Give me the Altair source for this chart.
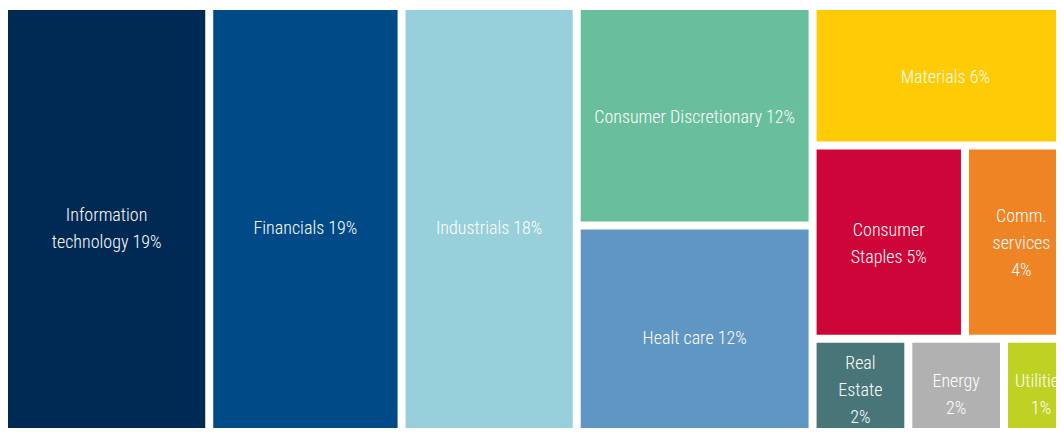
import altair as alt
import pandas as pd

# ---- data ----
names = ["Information technology", "Financials", "Industrials",
         "Consumer Discretionary", "Healt care", "Materials",
         "Consumer Staples", "Comm. services", "Real Estate", "Energy", "Utilities"]
labels = ["Information\ntechnology 19%", "Financials 19%", "Industrials 18%",
          "Consumer Discretionary 12%", "Healt care 12%", "Materials 6%",
          "Consumer\nStaples 5%", "Comm.\nservices\n4%", "Real\nEstate\n2%",
          "Energy\n2%", "Utilities\n1%"]
# tile weights estimated from the tile areas in the picture
weights = [19.1, 17.9, 16.3, 10.9, 11.05, 7.8, 6.2, 4.6, 2.2, 2.2, 1.7]
# hierarchy of the treemap: column, then row inside that column
column = [0, 1, 2, 3, 3, 4, 4, 4, 4, 4, 4]
row = [0, 0, 0, 0, 1, 0, 1, 1, 2, 2, 2]
colors = ["#002a54", "#004a88", "#97cfdb", "#69be9c", "#6096c3", "#ffcb05",
          "#ce0538", "#ef8425", "#487578", "#b1b1b1", "#bfd224"]

# ---- layout (slice & dice over the hierarchy) ----
LAYOUT_W, LAYOUT_H = 1066, 434   # full treemap extent (runs past the window)
PW, PH = 1048, 418               # visible plot area
GAP = 8
LINE_H = 27
BOTTOM_ROOM = 12

n = len(names)
EW, EH = LAYOUT_W + GAP, LAYOUT_H + GAP
total = sum(weights)
x0 = [0.0] * n; x1 = [0.0] * n; y0 = [0.0] * n; y1 = [0.0] * n
xc = -GAP / 2
for c in sorted(set(column)):
    idx = [i for i in range(n) if column[i] == c]
    csum = sum(weights[i] for i in idx)
    cw = EW * csum / total
    yc = -GAP / 2
    for r in sorted(set(row[i] for i in idx)):
        ridx = [i for i in idx if row[i] == r]
        rsum = sum(weights[i] for i in ridx)
        rh = EH * rsum / csum
        xx = xc
        for i in ridx:
            w = cw * weights[i] / rsum
            x0[i] = xx + GAP / 2
            x1[i] = xx + w - GAP / 2
            y0[i] = yc + GAP / 2
            y1[i] = yc + rh - GAP / 2
            xx += w
        yc += rh
    xc += cw

nlines = [len(s.split("\n")) for s in labels]
cy = []
for a, b, k in zip(y0, y1, nlines):
    top_line = (a + b) / 2 - (k - 1) * LINE_H / 2
    # keep the whole label block inside the visible area
    top_line = min(top_line, PH - BOTTOM_ROOM - (k - 1) * LINE_H)
    cy.append(top_line)

df = pd.DataFrame({
    "name": names, "label": labels,
    "x0": x0, "x1": x1, "y0": y0, "y1": y1,
    "cx": [(a + b) / 2 for a, b in zip(x0, x1)],
    "cy": cy,
})

xs = alt.Scale(domain=[0, PW])
ys = alt.Scale(domain=[0, PH], reverse=True)

rects = alt.Chart(df).mark_rect(clip=True).encode(
    x=alt.X("x0:Q", scale=xs, axis=None),
    x2="x1:Q",
    y=alt.Y("y0:Q", scale=ys, axis=None),
    y2="y1:Q",
    color=alt.Color("name:N", scale=alt.Scale(domain=names, range=colors), legend=None),
)

texts = alt.Chart(df).mark_text(
    clip=True, color="white",
    font="Roboto Condensed, Liberation Sans Narrow, DejaVu Sans Condensed, sans-serif",
    fontSize=18, fontWeight=300, lineBreak="\n", lineHeight=LINE_H,
    align="center", baseline="middle", dy=2,
).encode(
    x=alt.X("cx:Q", scale=xs, axis=None),
    y=alt.Y("cy:Q", scale=ys, axis=None),
    text="label:N",
)

chart = (rects + texts).properties(
    width=PW, height=PH,
    autosize=alt.AutoSizeParams(type="none"),
    padding={"left": 0, "top": 2, "right": 0, "bottom": 0},
).configure_view(stroke=None)

chart.save("out.html", embed_options={"renderer": "svg", "actions": False})
